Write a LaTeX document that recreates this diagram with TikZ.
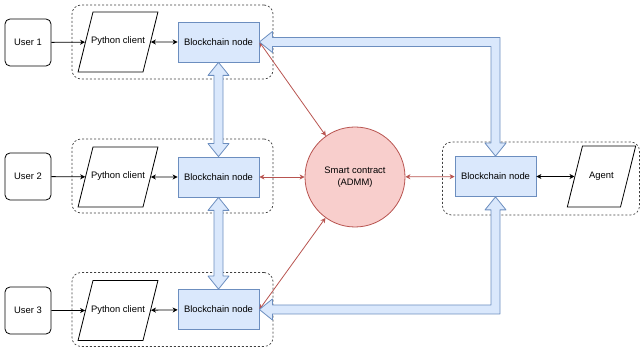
\documentclass[tikz,border=0pt]{standalone}
\usepackage{fontspec}
\setmainfont{Liberation Sans}
\usetikzlibrary{arrows.meta, shapes.geometric, calc}

\definecolor{chainfill}{HTML}{DAE8FC}
\definecolor{chainline}{HTML}{6C8EBF}
\definecolor{contractfill}{HTML}{F8CECC}
\definecolor{contractline}{HTML}{B85450}

\tikzset{
  usernode/.style={draw, line width=0.8pt, rounded corners=5, minimum width=46, minimum height=47, inner sep=0pt},
  clientnode/.style={draw, line width=0.8pt, trapezium, trapezium left angle=76, trapezium right angle=104,
    inner xsep=0pt, inner ysep=25.5pt, text height=6.5pt, text depth=2.5pt},
  chainnode/.style={draw=chainline, fill=chainfill, line width=0.8pt, minimum width=81, minimum height=40, inner sep=0pt},
  contractnode/.style={draw=contractline, fill=contractfill, line width=0.8pt, circle, minimum size=100, align=center, inner sep=0pt},
  groupbox/.style={draw=black!75, line width=0.7pt, dash pattern=on 2pt off 2pt, rounded corners=9},
  userlink/.style={draw, line width=0.8pt, -{Stealth[length=5pt, width=5pt, inset=1.5pt]}},
  clientlink/.style={draw, line width=0.8pt, {Stealth[length=5pt, width=5pt, inset=1.5pt]}-{Stealth[length=5pt, width=5pt, inset=1.5pt]}},
  contractlink/.style={draw=contractline, line width=0.8pt, {Stealth[length=5pt, width=5pt, inset=1.5pt]}-{Stealth[length=5pt, width=5pt, inset=1.5pt]}},
  blockarrow/.style={draw=chainline, fill=chainfill, line width=0.8pt, line join=round}
}

\begin{document}
\begin{tikzpicture}[x=1pt, y=-1pt, font=\fontsize{9.4}{11.5}\selectfont]
\useasboundingbox (0,0) rectangle (641,347);

% dashed groups
\node[groupbox, minimum width=201, minimum height=74] (group1) at (172.5,42) {};
\node[groupbox, minimum width=201, minimum height=74] (group2) at (172.5,176) {};
\node[groupbox, minimum width=201, minimum height=74] (group3) at (172.5,309.5) {};
\node[groupbox, minimum width=197, minimum height=73] (group4) at (541,178.5) {};

% users and clients
\node[usernode] (user1) at (28,42.5) {User 1};
\node[clientnode] (client1) at (118,42) {\makebox[50pt]{Python client}};
\node[chainnode] (chain1) at (218.5,42) {Blockchain node};

\node[usernode] (user2) at (28,176.5) {User 2};
\node[clientnode] (client2) at (118,177) {\makebox[50pt]{Python client}};
\node[chainnode] (chain2) at (218.5,177) {Blockchain node};

\node[usernode] (user3) at (28,310.5) {User 3};
\node[clientnode] (client3) at (118,310.5) {\makebox[50pt]{Python client}};
\node[chainnode] (chain3) at (218.5,309.5) {Blockchain node};

% contract and agent side
\node[contractnode] (contract) at (355,177) {Smart contract\\(ADMM)};
\node[chainnode] (chain4) at (495.5,176.5) {Blockchain node};
\node[clientnode, inner ysep=26pt] (agent) at (601.5,176.5) {\makebox[38pt]{Agent}};

\draw[userlink] (user1) -- (client1);
\draw[userlink] (user2) -- (client2);
\draw[userlink] (user3) -- (client3);
\draw[clientlink] (client1) -- (chain1);
\draw[clientlink] (client2) -- (chain2);
\draw[clientlink] (client3) -- (chain3);
\draw[clientlink] (chain4) -- (agent);

\draw[contractlink] (chain1.east) -- (contract);
\draw[contractlink] (chain2) -- (contract);
\draw[contractlink] (chain3.east) -- (contract);
\draw[contractlink] (contract) -- (chain4);

% block arrows
\draw[blockarrow] (chain1.south) -- ++(10.5,13) -- ++(-6,0) -- ($(chain2.north)+(4.5,-13)$) -- ++(6,0)
  -- (chain2.north) -- ++(-10.5,-13) -- ++(6,0) -- ($(chain1.south)+(-4.5,13)$) -- ++(-6,0) -- cycle;
\draw[blockarrow] (chain2.south) -- ++(10.5,13) -- ++(-6,0) -- ($(chain3.north)+(4.5,-13)$) -- ++(6,0)
  -- (chain3.north) -- ++(-10.5,-13) -- ++(6,0) -- ($(chain2.south)+(-4.5,13)$) -- ++(-6,0) -- cycle;
\draw[blockarrow] (chain1.east) -- ++(13,-10.5) -- ++(0,6) -- ($(chain4.north |- chain1.east)+(4.5,-4.5)$)
  -- ($(chain4.north)+(4.5,-13)$) -- ++(6,0) -- (chain4.north) -- ++(-10.5,-13) -- ++(6,0)
  -- ($(chain4.north |- chain1.east)+(-4.5,4.5)$) -- ($(chain1.east)+(13,4.5)$) -- ++(0,6) -- cycle;
\draw[blockarrow] (chain3.east) -- ++(13,10.5) -- ++(0,-6) -- ($(chain4.south |- chain3.east)+(4.5,4.5)$)
  -- ($(chain4.south)+(4.5,13)$) -- ++(6,0) -- (chain4.south) -- ++(-10.5,13) -- ++(6,0)
  -- ($(chain4.south |- chain3.east)+(-4.5,-4.5)$) -- ($(chain3.east)+(13,-4.5)$) -- ++(0,-6) -- cycle;

\end{tikzpicture}
\end{document}
